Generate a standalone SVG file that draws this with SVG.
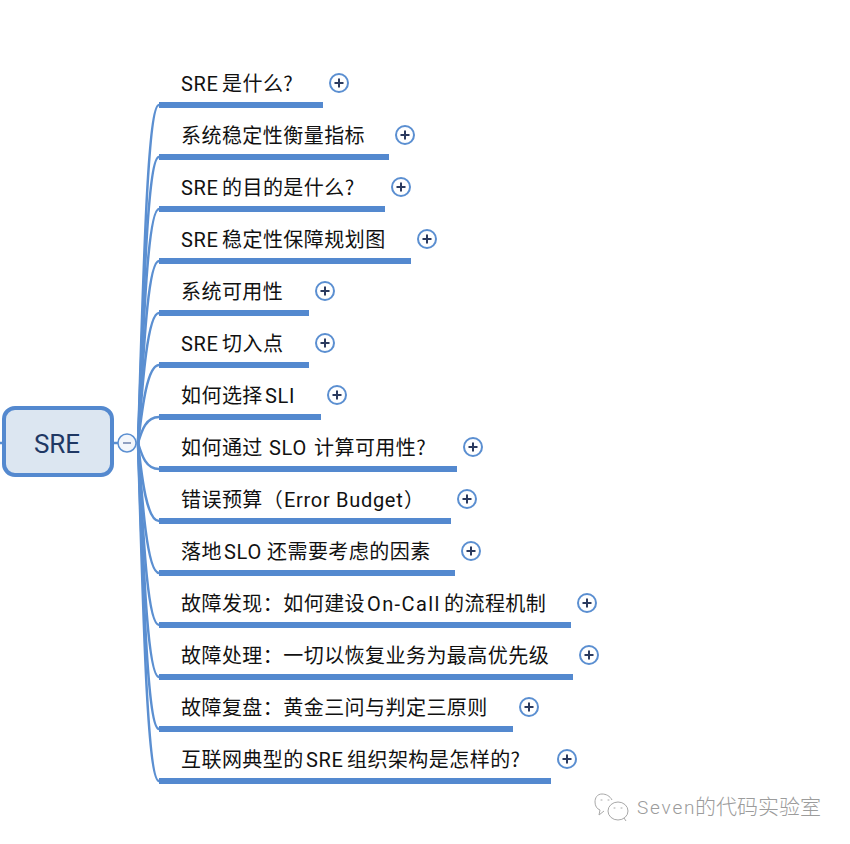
<svg xmlns="http://www.w3.org/2000/svg" width="850" height="844" viewBox="0 0 850 844">
<style>
text{font-family:Roboto,"Liberation Sans","Noto Sans CJK SC",sans-serif;font-size:20px;fill:#111;letter-spacing:.7px}
.z{font-family:"Noto Sans CJK SC",sans-serif;letter-spacing:.45px}
.l{stroke:#5b8fd1;stroke-width:2.500;fill:none}
.bar{fill:#5489cf}
.c{fill:#fff;stroke:#5b8fd1;stroke-width:2}
.p{stroke:#2b3a5e;stroke-width:2;fill:none}
</style>
<defs>
<g id="plus"><circle class="c" r="9"/><path class="p" d="M-4.500 0H4.500M0-4.500V4.500"/></g>
</defs>
<g id="connectors">
<path class="l" d="M0 443H3M113 443H118"/>
<path class="l" d="M138 443C143 290 147 105 159 105"/>
<path class="l" d="M138 443C143 315 147 157 159 157"/>
<path class="l" d="M138 443C143 340 147 209 159 209"/>
<path class="l" d="M138 443C143 365 147 261 159 261"/>
<path class="l" d="M138 443C142 390 147 313 159 313"/>
<path class="l" d="M138 443C142 410 147 365 159 365"/>
<path class="l" d="M138 443C142 430 146 417 159 417"/>
<path class="l" d="M138 443C142 456 146 469 159 469"/>
<path class="l" d="M138 443C142 480 147 521 159 521"/>
<path class="l" d="M138 443C142 500 147 573 159 573"/>
<path class="l" d="M138 443C143 530 147 625 159 625"/>
<path class="l" d="M138 443C143 555 147 677 159 677"/>
<path class="l" d="M138 443C143 580 147 729 159 729"/>
<path class="l" d="M138 443C143 605 147 781 159 781"/>
</g>
<g id="root">
<rect x="4" y="408" width="108" height="67" rx="11" fill="#dce6f1" stroke="#5489cf" stroke-width="4"/>
<text x="57" y="453" text-anchor="middle" style="font-size:26px;fill:#1f3864;letter-spacing:0">SRE</text>
<circle cx="127" cy="443" r="9" fill="#f3f6fb" stroke="#5b8fd1" stroke-width="1.500"/>
<path d="M123 443H131" stroke="#8f9fc0" stroke-width="2"/>
</g>
<g id="n1"><rect class="bar" x="159" y="102" width="164" height="6"/><text y="91"><tspan x="181">SRE</tspan><tspan class="z" x="222">是什么?</tspan></text><use href="#plus" x="339" y="83"/></g>
<g id="n2"><rect class="bar" x="159" y="154" width="230" height="6"/><text class="z" x="181" y="143">系统稳定性衡量指标</text><use href="#plus" x="405" y="135"/></g>
<g id="n3"><rect class="bar" x="159" y="206" width="226" height="6"/><text y="195"><tspan x="181">SRE</tspan><tspan class="z" x="222">的目的是什么?</tspan></text><use href="#plus" x="401" y="187"/></g>
<g id="n4"><rect class="bar" x="159" y="258" width="252" height="6"/><text y="247"><tspan x="181">SRE</tspan><tspan class="z" x="222">稳定性保障规划图</tspan></text><use href="#plus" x="427" y="239"/></g>
<g id="n5"><rect class="bar" x="159" y="310" width="150" height="6"/><text class="z" x="181" y="299">系统可用性</text><use href="#plus" x="325" y="291"/></g>
<g id="n6"><rect class="bar" x="159" y="362" width="150" height="6"/><text y="351"><tspan x="181">SRE</tspan><tspan class="z" x="222">切入点</tspan></text><use href="#plus" x="325" y="343"/></g>
<g id="n7"><rect class="bar" x="159" y="414" width="162" height="6"/><text y="403"><tspan class="z" x="181">如何选择</tspan><tspan x="265">SLI</tspan></text><use href="#plus" x="337" y="395"/></g>
<g id="n8"><rect class="bar" x="159" y="466" width="298" height="6"/><text y="455"><tspan class="z" x="181">如何通过</tspan><tspan x="269">SLO</tspan><tspan class="z" x="314">计算可用性?</tspan></text><use href="#plus" x="473" y="447"/></g>
<g id="n9"><rect class="bar" x="159" y="518" width="292" height="6"/><text y="507"><tspan class="z" x="181">错误预算（</tspan><tspan x="284">Error Budget</tspan><tspan class="z" x="404">）</tspan></text><use href="#plus" x="467" y="499"/></g>
<g id="n10"><rect class="bar" x="159" y="570" width="296" height="6"/><text y="559"><tspan class="z" x="181">落地</tspan><tspan x="224">SLO</tspan><tspan class="z" x="267">还需要考虑的因素</tspan></text><use href="#plus" x="471" y="551"/></g>
<g id="n11"><rect class="bar" x="159" y="622" width="412" height="6"/><text y="611"><tspan class="z" x="181">故障发现：如何建设</tspan><tspan x="367" style="letter-spacing:1.400px">On-Call</tspan><tspan class="z" x="444">的流程机制</tspan></text><use href="#plus" x="587" y="603"/></g>
<g id="n12"><rect class="bar" x="159" y="674" width="414" height="6"/><text class="z" x="181" y="663">故障处理：一切以恢复业务为最高优先级</text><use href="#plus" x="589" y="655"/></g>
<g id="n13"><rect class="bar" x="159" y="726" width="354" height="6"/><text class="z" x="181" y="715">故障复盘：黄金三问与判定三原则</text><use href="#plus" x="529" y="707"/></g>
<g id="n14"><rect class="bar" x="159" y="778" width="392" height="6"/><text y="767"><tspan class="z" x="181">互联网典型的</tspan><tspan x="306">SRE</tspan><tspan class="z" x="347">组织架构是怎样的?</tspan></text><use href="#plus" x="567" y="759"/></g>
<g id="watermark" fill="none" stroke="#a8a8a8" stroke-width="1">
<path d="M612 800C610 796 606 794 602 794C597 794 595 798 595 802C595 806 597 809 600 810L599 815L604 811"/>
<ellipse cx="618" cy="811" rx="10" ry="9"/>
<path d="M624 818L626 821"/>
<path d="M601 800h1M608 800h1M614 808h1M621 808h1" stroke-linecap="round"/>
<text x="637" y="814" style="font-size:19px;font-weight:300;fill:#9c9c9c;stroke:none;letter-spacing:1.800px">Seven<tspan x="695" style="font-family:'Noto Sans CJK SC',sans-serif;font-size:21px;letter-spacing:0">的代码实验室</tspan></text>
</g>
</svg>
